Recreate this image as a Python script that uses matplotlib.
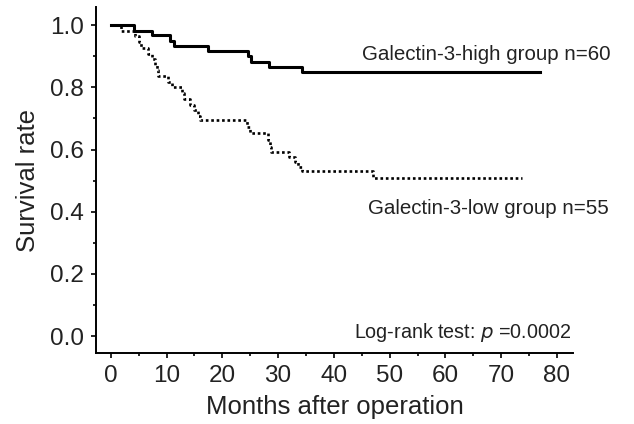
import matplotlib
matplotlib.use("Agg")
import matplotlib.pyplot as plt
from matplotlib.ticker import MultipleLocator

plt.rcParams['font.family'] = ['Liberation Sans', 'DejaVu Sans']

# Kaplan-Meier steps: (month, survival after the drop)
high_t = [0, 4.2, 7.4, 10.6, 11.4, 17.5, 24.6, 25.2, 28.3, 34.2, 77.0]
high_s = [1.0, 0.983, 0.967, 0.950, 0.933, 0.917, 0.900, 0.883, 0.866, 0.848, 0.848]

low_t = [0, 1.9, 4.3, 5.0, 5.5, 6.6, 7.3, 7.9, 8.2, 8.5, 10.2, 11.0, 12.8,
         13.2, 14.2, 15.0, 15.7, 16.0, 24.4, 25.0, 28.2, 28.5, 28.8, 31.9,
         33.0, 33.6, 34.2, 47.0, 73.7]
low_s = [1.0, 0.982, 0.964, 0.945, 0.927, 0.909, 0.891, 0.873, 0.855, 0.836,
         0.818, 0.800, 0.782, 0.764, 0.745, 0.727, 0.709, 0.695, 0.673, 0.652,
         0.630, 0.609, 0.593, 0.577, 0.560, 0.544, 0.530, 0.507, 0.507]

high_label = 'Galectin-3-high group n=60'
low_label = 'Galectin-3-low group n=55'
test_label = 'Log-rank test: $p$ =0.0002'

fig = plt.figure(figsize=(6.34, 4.24), dpi=100)
ax = fig.add_axes([0.151, 0.167, 0.753, 0.816])

ax.step(high_t, high_s, where='post', color='black', lw=2.2)
ax.step(low_t, low_s, where='post', color='black', lw=1.9,
        linestyle=(0, (1, 1.05)), dash_capstyle='butt')

txt = '#222222'
ax.text(45.0, 0.905, high_label, fontsize=14.8, color=txt, va='center')
ax.text(46.1, 0.41, low_label, fontsize=14.8, color=txt, va='center')
ax.text(43.6, 0.013, test_label, fontsize=14.2, color=txt, va='center')

ax.set_xlim(-2.7, 82.9)
ax.set_ylim(-0.055, 1.058)
ax.xaxis.set_major_locator(MultipleLocator(10))
ax.xaxis.set_minor_locator(MultipleLocator(5))
ax.yaxis.set_major_locator(MultipleLocator(0.2))
ax.yaxis.set_minor_locator(MultipleLocator(0.1))
ax.yaxis.set_major_formatter(plt.FormatStrFormatter('%.1f'))

for s in ['top', 'right']:
    ax.spines[s].set_visible(False)
for s in ['left', 'bottom']:
    ax.spines[s].set_linewidth(1.4)
ax.tick_params(which='major', length=3.8, width=1.2, labelsize=17.5,
               labelcolor=txt, pad=4.5)
ax.tick_params(which='minor', length=2.2, width=1.2)

ax.set_xlabel('Months after operation', fontsize=18.5, color=txt, labelpad=6)
ax.set_ylabel('Survival rate', fontsize=18.5, color=txt, labelpad=7.5)

fig.savefig('out.png', dpi=100)
